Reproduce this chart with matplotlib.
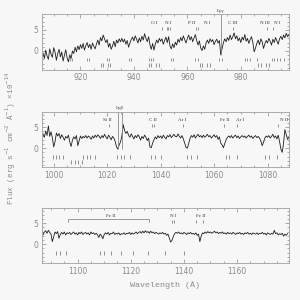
import numpy as np
import matplotlib
matplotlib.use("Agg")
import matplotlib.pyplot as plt
from matplotlib.ticker import MultipleLocator

# flux (x1e-14), sampled every 0.5 A
wave_top_start = 906.0
flux_top = [
    -0.5, -1.8, 0.2, -1.2, -2.0, 0.5, -0.8, -1.5, 0.8, -0.3, -2.2, -0.6, 0.4, -1.4, -0.2, -2.4, -1.0, 0.3, -1.6, -2.6,
    -0.9, -1.8, 0.0, -0.6, 0.9, -0.2, 1.2, 0.3, 1.5, 0.6, 1.8, 0.2, 1.3, 2.0, 0.8, 1.6, 0.4, 1.9, 1.1, 0.5,
    1.7, 2.6, 1.4, 3.2, 2.4, 3.8, 2.9, 2.0, 2.7, 0.9, 1.8, 0.4, 1.2, 2.3, 1.0, 2.6, 1.9, 2.9, 2.2, 3.0,
    2.1, 2.8, 1.6, 2.5, 0.9, 1.9, 2.7, 3.3, 2.4, 3.6, 2.8, 1.9, 3.1, 2.2, 3.5, 2.6, 4.1, 3.0, 2.2, 3.4,
    1.5, 0.4, 1.8, 0.2, 1.6, 2.6, 1.9, 3.0, 2.3, 2.9, 1.6, 2.5, 3.3, 2.0, 3.4, 1.2, 0.5, 1.7, 0.8, 2.1,
    1.4, 2.8, 2.1, 3.2, 2.4, 3.6, 2.7, 1.9, 3.0, 3.8, 2.6, 3.4, 2.2, 3.1, 3.9, 2.5, 1.4, 2.4, 0.7, 0.1,
    1.2, 0.4, 1.9, 2.6, 1.8, 2.9, 2.2, 2.7, 1.5, 2.3, 2.8, 1.9, 2.5, -0.9, 0.6, 2.0, 2.9, 2.2, 3.2, 2.5,
    3.8, 2.7, 3.4, 4.3, 2.9, 3.6, 2.4, 3.1, 2.0, 3.3, 2.6, 3.9, 2.3, 3.0, 1.8, 2.7, 3.4, 2.1, -0.2, 0.7,
    1.8, 2.6, 1.5, 2.9, 2.2, 0.6, 1.7, 2.5, 1.9, 3.0, 2.3, 1.4, 2.8, 2.0, 3.2, 2.4, 1.6, 2.9, 3.5, 2.7,
    3.8, 3.1, 4.2, 3.4, 3.9,
]

wave_mid_start = 996.0
flux_mid = [
    3.4, 2.6, 4.1, 3.0, 5.3, 2.8, 3.9, 2.4, 0.3, 1.6, 3.6, 2.9, 3.5, 2.3, 3.2, 2.6, 1.9, 2.8, 2.4, 3.1,
    1.5, 0.4, 1.9, 2.7, 2.2, 3.0, 0.6, 1.8, 2.9, 2.3, 2.8, 2.5, 3.0, 2.4, 2.9, 2.6, 2.1, 2.9, 2.4, 3.1,
    2.6, 3.2, 2.8, 2.3, 3.0, 2.5, 3.3, 2.7, 2.2, 3.1, 2.6, 2.0, 2.8, 2.4, 1.6, 0.3, -0.2, 0.8, 1.5, 2.9,
    5.6, 4.2, 3.5, 4.0, 3.1, 2.6, 3.4, 2.8, 2.2, 3.0, 2.5, 3.2, 2.7, 1.9, 2.8, 2.3, 3.1, 2.6, 1.8, 2.4,
    0.3, 0.1, 1.2, 2.0, 2.7, 2.2, 3.0, 2.5, 2.9, 2.3, 3.1, 2.6, 2.2, 3.0, 2.7, 3.2, 2.5, 2.9, 3.3, 2.8,
    2.7, 3.4, 2.8, 2.4, 3.0, 2.2, 1.2, 0.2, 0.0, 1.1, 2.3, 3.0, 2.6, 3.2, 2.4, 2.9, 3.3, 2.7, 3.0, 2.5,
    3.1, 2.6, 2.9, 3.3, 2.7, 3.0, 2.4, 2.8, 3.2, 2.6, 3.0, 2.1, 2.7, 1.2, 0.8, 0.1, 1.1, 2.0, 2.6, 2.9,
    2.5, 3.0, 2.4, 2.8, 3.1, 2.5, 2.9, 2.3, 2.7, 3.0, 2.6, 2.9, 2.4, 2.8, 3.1, 2.6, 2.9, 2.3, 2.7, 3.0,
    2.5, 2.8, 2.4, 1.7, 0.6, 1.4, 2.4, 2.9, 2.6, 3.0, 2.4, 2.8, 3.3, 2.5, 2.9, 2.2, 3.1, 1.6, -0.2, -1.0,
    1.2, 4.4, 3.2, 2.1, 2.6,
]

wave_bot_start = 1087.0
flux_bot = [
    2.2, 2.9, 3.2, 2.6, 3.3, 2.8, 2.4, 0.6, 1.8, 2.9, 2.5, 3.0, 1.4, 2.3, 2.8, 2.4, 2.9, 2.2, 2.7, 2.5,
    2.8, 2.3, 2.6, 2.9, 2.4, 2.7, 2.2, 2.8, 2.5, 2.9, 2.3, 2.6, 2.8, 2.4, 2.7, 2.2, 2.9, 2.5, 2.7, 2.3,
    2.6, 2.2, 1.6, 2.4, 2.0, 1.3, 2.3, 2.7, 2.4, 2.8, 2.2, 2.6, 2.5, 2.9, 2.3, 2.6, 2.4, 2.7, 2.2, 2.5,
    2.4, 2.7, 2.3, 2.6, 2.5, 2.8, 2.3, 2.7, 2.4, 2.6, 2.9, 2.5, 2.8, 3.0, 2.6, 3.1, 2.7, 3.2, 2.8, 3.0,
    2.6, 3.1, 2.7, 2.9, 2.5, 2.8, 2.6, 2.4, 2.7, 2.5, 2.8, 2.4, 2.6, 2.1, 2.4, 1.5, 0.5, 0.9, 1.8, 2.5,
    2.8, 2.6, 2.9, 2.5, 2.7, 2.4, 2.8, 2.6, 2.3, 2.7, 2.5, 2.8, 2.4, 2.6, 2.3, 2.7, 2.1, 2.4, 0.6, 1.9,
    2.7, 2.5, 2.9, 2.6, 3.0, 2.7, 2.9, 2.6, 2.8, 3.1, 2.7, 2.9, 2.5, 2.8, 2.6, 2.9, 2.5, 2.7, 2.4, 2.8,
    2.5, 2.7, 2.4, 2.8, 2.6, 2.3, 2.7, 2.5, 2.8, 2.4, 2.6, 2.3, 2.7, 2.5, 2.8, 2.4, 2.6, 2.3, 2.7, 2.5,
    2.4, 2.7, 2.3, 2.6, 2.5, 2.8, 2.4, 2.6, 2.2, 2.7, 2.5, 2.3, 2.6, 2.4, 3.3, 2.5, 2.7, 2.2, 2.5, 2.3,
    2.6, 1.9, 2.4, 2.1, 2.5,
]

# line markers below the spectrum (two rows)
top_row1 = [916.0, 916.8, 922.5, 923.3, 930.0, 930.8, 938.0, 938.9, 945.6, 946.4, 947.0,
            953.9, 954.7, 963.0, 963.9, 972.0, 972.8, 981.5, 982.3, 983.4, 985.9,
            991.6, 992.5, 993.5, 994.5, 996.2]
top_row2 = [927.7, 928.5, 930.4, 931.2, 945.6, 946.5, 948.3, 949.3, 964.6, 965.5, 967.4, 968.5,
            986.6, 987.4, 989.4, 990.6]
mid_row1 = [999.6, 1000.9, 1002.1, 1003.4, 1011.1, 1012.5, 1013.7, 1015.5, 1023.8, 1025.0,
            1026.2, 1028.4, 1036.5, 1037.8, 1040.3, 1049.9, 1051.2, 1053.7, 1064.3, 1065.6,
            1068.4, 1079.2, 1080.5, 1083.7]
mid_row2 = [1006.6, 1007.9, 1009.2, 1010.5]
bot_row1 = [1091.7, 1093.2, 1095.8, 1108.5, 1110.1, 1112.7, 1116.2, 1121.0, 1126.6, 1133.0, 1140.2]
bot_row2 = []

# line identifications: (label, position)
top_ids = [("O I", 947.8), ("N I", 952.8), ("P II", 961.6), ("N I", 967.5),
           ("C III", 976.8), ("N III", 989.0), ("N I", 993.7)]
top_id_ticks = [950.6, 952.4, 952.9, 953.4, 963.2, 963.9, 977.0, 989.9, 992.2]
mid_ids = [("Si II", 1020.0), ("C II", 1037.2), ("Ar I", 1048.2), ("Fe II", 1063.9),
           ("Ar I", 1069.6), ("N II", 1086.1)]
mid_id_ticks = [1020.6, 1036.8, 1037.5, 1048.2, 1063.6, 1068.4, 1084.0]
bot_ids = [("N I", 1136.0), ("Fe II", 1146.3)]
bot_id_ticks = [1135.6, 1136.2, 1144.6, 1147.0]
bot_bracket = (1096.4, 1126.8, "Fe II", 1112.4)

lyman = [("Ly\u03b3", [972.5]), ("Ly\u03b2", [1024.2, 1025.6])]

panels = [
    (wave_top_start, flux_top, (905.5, 998.0), top_row1, top_row2, top_ids, top_id_ticks),
    (wave_mid_start, flux_mid, (995.5, 1088.0), mid_row1, mid_row2, mid_ids, mid_id_ticks),
    (wave_bot_start, flux_bot, (1086.5, 1179.5), bot_row1, bot_row2, bot_ids, bot_id_ticks),
]

GREY = "#8a8a8a"
BG = "#f7f7f7"
SERIF = ["Liberation Serif", "DejaVu Serif"]
MONO = ["Liberation Mono", "DejaVu Sans Mono"]

fig = plt.figure(figsize=(3, 3), dpi=100, facecolor=BG)
bottoms = [0.767, 0.443, 0.123]
axes = []
for (start, flux, xlim, row1, row2, ids, id_ticks), b in zip(panels, bottoms):
    ax = fig.add_axes([0.139, b, 0.824, 0.185])
    ax.set_facecolor(BG)
    wave = start + 0.5 * np.arange(len(flux))
    ax.plot(wave, flux, color="#1e1e1e", lw=0.6)
    ax.vlines(row1, -2.5, -1.6, color="#444444", lw=0.4)
    if row2:
        ax.vlines(row2, -3.8, -2.9, color="#444444", lw=0.4)
    for name, x in ids:
        ax.text(x, 6.6, name, ha="center", va="center", fontsize=3.6,
                family=SERIF, color="#333333")
    ax.vlines(id_ticks, 5.1, 5.8, color="#444444", lw=0.4)
    ax.set_xlim(*xlim)
    ax.set_ylim(-4.5, 8.7)
    ax.xaxis.set_major_locator(MultipleLocator(20))
    ax.xaxis.set_minor_locator(MultipleLocator(5))
    ax.yaxis.set_major_locator(MultipleLocator(5))
    ax.yaxis.set_minor_locator(MultipleLocator(1))
    ax.tick_params(which="both", direction="in", top=True, right=True,
                   color=GREY, labelcolor=GREY, labelsize=5.5, width=0.5, pad=2.5)
    ax.tick_params(which="major", length=3)
    ax.tick_params(which="minor", length=1.5)
    for s in ax.spines.values():
        s.set_color("#a0a0a0")
        s.set_linewidth(0.6)
    axes.append(ax)

# Lyman lines
for ax, (name, xs) in zip(axes[:2], lyman):
    lo = -0.9 if len(xs) == 1 else -0.2
    ax.vlines(xs, lo, 8.7, color="#888888", lw=0.6)
    ax.text(np.mean(xs), 9.0, name, ha="center", va="bottom", fontsize=3.6,
            family=SERIF, color="#333333", clip_on=False)

# Fe II bracket in bottom panel
ax = axes[2]
x0, x1, name, xt = bot_bracket
ax.plot([x0, x0, x1, x1], [5.2, 5.9, 5.9, 5.2], color="#777777", lw=0.5)
ax.text(xt, 6.6, name, ha="center", va="center", fontsize=3.6, family=SERIF, color="#333333")

axes[2].set_xlabel("Wavelength (\u00c5)", fontsize=6, family=MONO, color=GREY, labelpad=4)
fig.text(0.035, 0.54, "Flux (erg s$^{-1}$ cm$^{-2}$ \u00c5$^{-1}$) \u00d710$^{-14}$",
         rotation=90, ha="center", va="center", fontsize=5.5, family=MONO, color=GREY)

fig.savefig("out.png", dpi=100, facecolor=BG)
